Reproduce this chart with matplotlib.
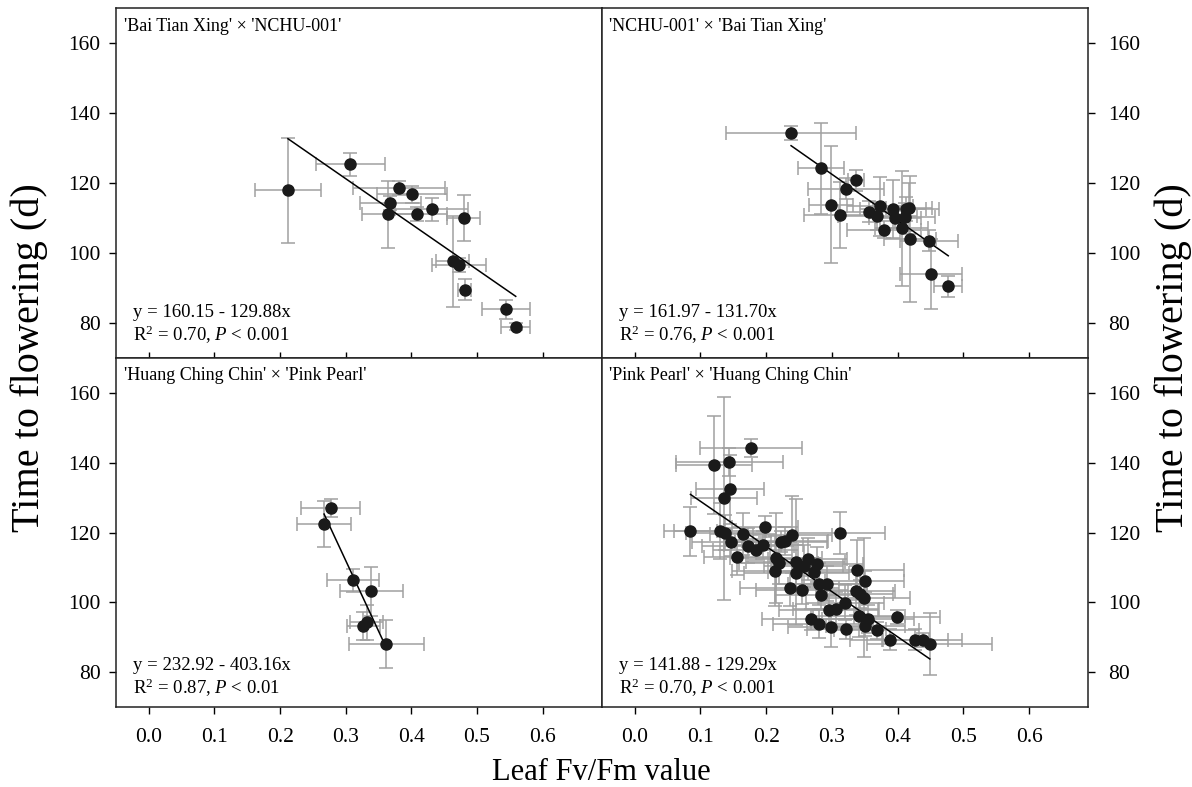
import matplotlib
matplotlib.use('Agg')
import matplotlib.pyplot as plt
import numpy as np

plt.rcParams['font.family'] = ['Liberation Serif', 'DejaVu Serif']
plt.rcParams['mathtext.fontset'] = 'custom'
plt.rcParams['mathtext.rm'] = 'Liberation Serif'
plt.rcParams['mathtext.it'] = 'Liberation Serif:italic'

# ---------------- data ----------------
titles = ["'Bai Tian Xing' \u00d7 'NCHU-001'", "'NCHU-001' \u00d7 'Bai Tian Xing'",
          "'Huang Ching Chin' \u00d7 'Pink Pearl'", "'Pink Pearl' \u00d7 'Huang Ching Chin'"]

# Panel 1: 'Bai Tian Xing' x 'NCHU-001'
fv1 = [0.212, 0.307, 0.381, 0.401, 0.368, 0.365, 0.409, 0.431, 0.480, 0.463, 0.473, 0.481, 0.544, 0.559]
tf1 = [117.9, 125.3, 118.4, 116.7, 114.2, 111.0, 111.2, 112.4, 110.0, 97.6, 96.5, 89.5, 83.8, 78.9]
fv1_err = [0.050, 0.053, 0.070, 0.054, 0.047, 0.040, 0.045, 0.056, 0.025, 0.025, 0.041, 0.010, 0.037, 0.022]
tf1_err = [15.0, 3.2, 2.0, 2.5, 2.0, 9.6, 2.0, 3.4, 6.5, 13.0, 2.0, 3.1, 2.8, 1.0]

# Panel 2: 'NCHU-001' x 'Bai Tian Xing'
fv2 = [0.238, 0.284, 0.337, 0.322, 0.299, 0.312, 0.356, 0.373, 0.369, 0.379, 0.393, 0.396, 0.406,
       0.413, 0.417, 0.412, 0.419, 0.448, 0.451, 0.477]
tf2 = [134.2, 124.2, 120.7, 118.3, 113.7, 110.8, 111.8, 113.3, 110.4, 106.6, 112.5, 110.0, 107.0,
       112.5, 112.8, 110.1, 104.0, 103.5, 94.0, 90.4]
fv2_err = [0.099, 0.035, 0.012, 0.058, 0.033, 0.055, 0.045, 0.050, 0.060, 0.056, 0.050, 0.040, 0.040,
           0.050, 0.035, 0.045, 0.040, 0.044, 0.047, 0.021]
tf2_err = [2.0, 13.0, 2.9, 3.0, 16.7, 9.5, 3.0, 8.5, 4.0, 2.5, 8.2, 3.0, 16.5,
           3.5, 7.3, 4.0, 18.0, 3.0, 10.0, 3.0]

# Panel 3: 'Huang Ching Chin' x 'Pink Pearl'
fv3 = [0.277, 0.267, 0.311, 0.339, 0.332, 0.327, 0.362]
tf3 = [126.9, 122.4, 106.3, 103.2, 94.3, 93.3, 88.2]
fv3_err = [0.045, 0.041, 0.040, 0.048, 0.025, 0.025, 0.057]
tf3_err = [2.6, 6.6, 3.4, 7.0, 5.0, 4.0, 6.9]

# Panel 4: 'Pink Pearl' x 'Huang Ching Chin'
fv4 = [0.177, 0.121, 0.144, 0.136, 0.145, 0.085, 0.130, 0.138, 0.165, 0.198,
       0.313, 0.147, 0.172, 0.184, 0.196, 0.156, 0.223, 0.229, 0.240, 0.215,
       0.219, 0.245, 0.263, 0.278, 0.213, 0.246, 0.257, 0.273, 0.339, 0.350,
       0.236, 0.255, 0.280, 0.293, 0.283, 0.336, 0.349, 0.320, 0.295, 0.306,
       0.341, 0.355, 0.399, 0.269, 0.281, 0.298, 0.322, 0.368, 0.388, 0.427,
       0.438, 0.449, 0.351, 0.343]
tf4 = [144.2, 139.3, 140.3, 129.8, 132.3, 120.3, 120.3, 120.0, 119.7, 121.7,
       119.9, 117.3, 116.2, 115.0, 116.4, 112.9, 117.3, 117.6, 119.3, 112.7,
       111.2, 111.6, 112.3, 110.9, 108.9, 108.3, 110.5, 108.6, 109.3, 106.0,
       104.1, 103.6, 105.4, 105.4, 102.0, 103.3, 101.3, 99.9, 97.9, 98.1,
       96.0, 95.2, 95.8, 95.2, 93.8, 92.9, 92.4, 92.0, 89.3, 89.3,
       89.3, 88.1, 93.3, 102.5]
fv4_err = [0.077, 0.058, 0.081, 0.05, 0.052, 0.04, 0.07, 0.06, 0.05, 0.05,
           0.068, 0.06, 0.07, 0.065, 0.06, 0.05, 0.07, 0.065, 0.06, 0.07,
           0.06, 0.075, 0.06, 0.07, 0.065, 0.08, 0.06, 0.07, 0.07, 0.06,
           0.075, 0.07, 0.065, 0.06, 0.07, 0.06, 0.07, 0.06, 0.075, 0.065,
           0.07, 0.07, 0.065, 0.075, 0.07, 0.065, 0.06, 0.065, 0.06, 0.05,
           0.06, 0.095, 0.06, 0.05]
tf4_err = [2.5, 13.9, 4.0, 29.0, 10.0, 7.0, 8.0, 5.0, 6.0, 3.0,
           6.0, 4.0, 5.0, 3.0, 4.0, 5.0, 3.0, 4.0, 11.0, 13.0,
           6.0, 18.0, 6.0, 5.0, 10.0, 4.0, 6.0, 4.0, 8.5, 3.0,
           5.0, 4.0, 6.0, 5.0, 4.0, 7.0, 17.0, 5.0, 4.0, 5.0,
           6.0, 4.0, 2.0, 3.0, 4.0, 5.7, 3.0, 2.5, 3.0, 3.0,
           2.0, 9.0, 3.0, 4.0]

intercepts = [160.15, 161.97, 232.92, 141.88]
slopes = [-129.88, -131.70, -403.16, -129.29]
eq_texts = ["y = 160.15 - 129.88x", "y = 161.97 - 131.70x",
            "y = 232.92 - 403.16x", "y = 141.88 - 129.29x"]
r2_texts = ["R$^{2}$ = 0.70, $P$ < 0.001", "R$^{2}$ = 0.76, $P$ < 0.001",
            "R$^{2}$ = 0.87, $P$ < 0.01", "R$^{2}$ = 0.70, $P$ < 0.001"]

x_ticks = [0.0, 0.1, 0.2, 0.3, 0.4, 0.5, 0.6]
y_ticks = [80, 100, 120, 140, 160]

panels = [(fv1, tf1, fv1_err, tf1_err), (fv2, tf2, fv2_err, tf2_err),
          (fv3, tf3, fv3_err, tf3_err), (fv4, tf4, fv4_err, tf4_err)]

# ---------------- layout ----------------
W, H = 1192, 787
fig = plt.figure(figsize=(W / 100, H / 100), dpi=100)
xl, xm, xr = 116 / W, 601.7 / W, 1088.3 / W
yt, ym, yb = 1 - 8 / H, 1 - 357.7 / H, 1 - 707.3 / H
rects = [(xl, ym, xm - xl, yt - ym), (xm, ym, xr - xm, yt - ym),
         (xl, yb, xm - xl, ym - yb), (xm, yb, xr - xm, ym - yb)]

tick_fs = 15.5
for i, (rect, (x, y, xe, ye)) in enumerate(zip(rects, panels)):
    ax = fig.add_axes(rect)
    ax.errorbar(x, y, xerr=xe, yerr=ye, fmt='none', ecolor='#a0a0a0',
                elinewidth=1.1, capsize=5, capthick=1.1, zorder=2)
    ax.plot(x, y, 'o', color='#1a1a1a', markersize=8, zorder=4)
    xx = np.array([min(x), max(x)])
    ax.plot(xx, intercepts[i] + slopes[i] * xx, color='black', lw=1.1, zorder=3)
    ax.set_xlim(-0.05, 0.69)
    ax.set_ylim(70, 170)
    ax.set_xticks(x_ticks)
    ax.set_yticks(y_ticks)
    for s in ax.spines.values():
        s.set_linewidth(1.1)
        s.set_color('#222222')
    row, col = divmod(i, 2)
    if col == 0:
        ax.tick_params(axis='y', direction='out', length=5, width=1, pad=6, labelsize=tick_fs,
                       left=True, right=False, labelleft=True, labelright=False)
    else:
        ax.tick_params(axis='y', direction='out', length=5, width=1, pad=9, labelsize=tick_fs,
                       left=False, right=True, labelleft=False, labelright=True)
    if row == 0:
        ax.tick_params(axis='x', direction='in', length=4, width=1, labelbottom=False)
        eq_y, r2_y = 0.13, 0.065
    else:
        ax.tick_params(axis='x', direction='out', length=5, width=1, pad=10, labelsize=tick_fs)
        ax.set_xticklabels(['%.1f' % t for t in x_ticks])
        eq_y, r2_y = 0.12, 0.055
    ax.text(0.016, 0.948, titles[i], transform=ax.transAxes, fontsize=13,
            ha='left', va='center')
    ax.text(0.035, eq_y, eq_texts[i], transform=ax.transAxes, fontsize=13.5,
            ha='left', va='center')
    ax.text(0.035, r2_y, r2_texts[i], transform=ax.transAxes, fontsize=13.5,
            ha='left', va='center')

fig.text(29 / W, ym, 'Time to flowering (d)', rotation=90, fontsize=29,
         ha='center', va='center')
fig.text(1173 / W, ym, 'Time to flowering (d)', rotation=90, fontsize=29,
         ha='center', va='center')
fig.text(xm, 1 - 780 / H, 'Leaf Fv/Fm value', fontsize=22, ha='center', va='baseline')

fig.savefig('out.png', dpi=100)
